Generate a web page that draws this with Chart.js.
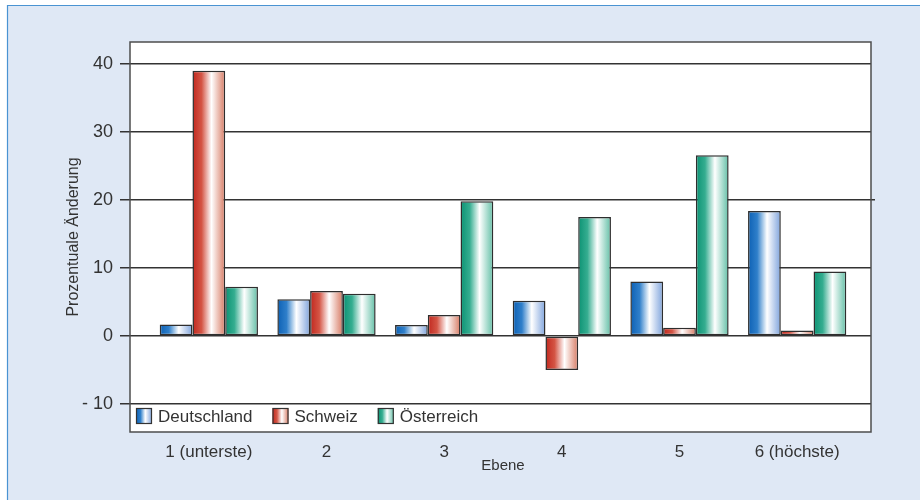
<!DOCTYPE html>
<html>
<head>
<meta charset="utf-8">
<script src="https://cdn.jsdelivr.net/npm/chart.js@4/dist/chart.umd.min.js"></script>
<style>
  html, body { margin: 0; padding: 0; background: #ffffff; }
  #wrap { width: 920px; height: 500px; }
</style>
</head>
<body>
<div id="wrap"><canvas id="c" width="920" height="500"></canvas></div>
<script>
// Prozentuale Änderung je Ebene
const ebenen = ['1 (unterste)', '2', '3', '4', '5', '6 (höchste)'];
const deutschland = [1.7, 5.4, 1.6, 5.2, 8.0, 18.4];
const schweiz = [39.0, 6.6, 3.1, -5.0, 1.2, 0.8];
const oesterreich = [7.25, 6.2, 19.8, 17.5, 26.6, 9.5];
const yTicks = [-10, 0, 10, 20, 30, 40];
const seriesNames = ['Deutschland', 'Schweiz', 'Österreich'];

const FONT = '"Liberation Sans", Arial, sans-serif';
const TEXT = '#333333';
const GRID = '#333333';
const GRID_W = 1.5;

// colour ramps for the shaded bar faces: dark edge, white highlight, soft edge
const ramps = [
  ['#0c60b4', '#2f7fca', '#ffffff', '#7ea3dc'],
  ['#c0271e', '#d45545', '#ffffff', '#d77a63'],
  ['#0b9273', '#35ad90', '#ffffff', '#62bfa6']
];

function shade(ctx, x0, x1, ramp) {
  const g = ctx.createLinearGradient(x0, 0, x1, 0);
  g.addColorStop(0, ramp[0]);
  g.addColorStop(0.28, ramp[1]);
  g.addColorStop(0.58, ramp[2]);
  g.addColorStop(1, ramp[3]);
  return g;
}

// plot frame (white box slightly wider than the category band)
const FRAME = { left: 130, right: 871 };

const panel = {
  id: 'panel',
  beforeDraw(chart) {
    const { ctx, chartArea } = chart;
    ctx.save();
    ctx.fillStyle = '#ffffff';
    ctx.fillRect(0, 0, chart.width, chart.height);
    ctx.fillStyle = '#dfe8f5';
    ctx.fillRect(7, 5, chart.width - 7, chart.height - 5);
    ctx.strokeStyle = '#4a93d2';
    ctx.lineWidth = 1.2;
    ctx.beginPath();
    ctx.moveTo(7.5, chart.height);
    ctx.lineTo(7.5, 5.5);
    ctx.lineTo(chart.width, 5.5);
    ctx.stroke();
    ctx.fillStyle = '#ffffff';
    ctx.fillRect(FRAME.left, chartArea.top, FRAME.right - FRAME.left, chartArea.bottom - chartArea.top);
    ctx.restore();
  },
  beforeDatasetsDraw(chart) {
    const { ctx, chartArea } = chart;
    const y = chart.scales.y;
    // horizontal grid lines across the whole frame, at the y scale's tick positions
    ctx.save();
    ctx.strokeStyle = GRID;
    ctx.lineWidth = GRID_W;
    y.ticks.forEach(t => {
      const raw = y.getPixelForValue(t.value);
      const py = Math.round(raw - GRID_W / 2) + GRID_W / 2;
      ctx.beginPath();
      ctx.moveTo(chartArea.left, py);
      ctx.lineTo(t.value === 20 ? FRAME.right + 4 : FRAME.right, py);
      ctx.stroke();
    });
    ctx.restore();
    // shaded faces for every bar
    chart.data.datasets.forEach((ds, i) => {
      const meta = chart.getDatasetMeta(i);
      meta.data.forEach(bar => {
        const p = bar.getProps(['x', 'width'], true);
        const g = shade(ctx, p.x - p.width / 2, p.x + p.width / 2, ramps[i]);
        bar.options = Object.assign({}, bar.options, { backgroundColor: g });
      });
    });
  },
  afterDraw(chart) {
    const { ctx, chartArea } = chart;
    ctx.save();
    ctx.strokeStyle = '#4d4d4d';
    ctx.lineWidth = 1.5;
    ctx.strokeRect(FRAME.left, chartArea.top, FRAME.right - FRAME.left, chartArea.bottom - chartArea.top);

    // legend inside the frame, below the -10 line
    ctx.font = '17px ' + FONT;
    ctx.textBaseline = 'middle';
    ctx.textAlign = 'left';
    let x = 136;
    const boxY = 408, box = 16;
    chart.data.datasets.forEach((ds, i) => {
      ctx.fillStyle = shade(ctx, x, x + box, ramps[i]);
      ctx.fillRect(x, boxY, box, box);
      ctx.strokeStyle = '#333333';
      ctx.lineWidth = 1.2;
      ctx.strokeRect(x + 0.5, boxY + 0.5, box - 1, box - 1);
      ctx.fillStyle = TEXT;
      ctx.fillText(ds.label, x + box + 6, boxY + box / 2 + 1);
      x += box + 6 + ctx.measureText(ds.label).width + 20;
    });
    ctx.restore();
  }
};

const seriesValues = [deutschland, schweiz, oesterreich];

new Chart(document.getElementById('c'), {
  type: 'bar',
  data: {
    labels: ebenen,
    datasets: seriesNames.map((name, i) => ({
      label: name,
      data: seriesValues[i],
      backgroundColor: ramps[i][1],
      borderColor: '#2e2e2e',
      borderWidth: 1.5,
      borderSkipped: false,
      barPercentage: 1.0,
      categoryPercentage: 0.835
    }))
  },
  options: {
    responsive: false,
    animation: false,
    devicePixelRatio: 1,
    layout: { padding: { top: 42, right: 64, left: 0, bottom: 0 } },
    plugins: {
      legend: { display: false },
      tooltip: { enabled: false }
    },
    scales: {
      x: {
        grid: { display: false, drawTicks: false },
        border: { display: false },
        ticks: {
          color: TEXT,
          font: { family: FONT, size: 17 },
          padding: 10,
          maxRotation: 0,
          autoSkip: false
        },
        title: {
          display: true,
          text: 'Ebene',
          color: TEXT,
          font: { family: FONT, size: 15 },
          padding: { top: 0, bottom: 25 }
        },
        afterFit(scale) { scale.height = 68; }
      },
      y: {
        min: -14.12,
        max: 43.24,
        grid: {
          color: GRID,
          lineWidth: GRID_W,
          drawOnChartArea: false,
          drawTicks: true,
          tickLength: 30
        },
        border: { display: false },
        afterBuildTicks(scale) {
          scale.ticks = yTicks.map(v => ({ value: v }));
        },
        ticks: {
          color: TEXT,
          font: { family: FONT, size: 18 },
          padding: 7,
          callback: v => (v < 0 ? '- ' + Math.abs(v) : String(v))
        },
        title: {
          display: true,
          text: 'Prozentuale Änderung',
          color: TEXT,
          font: { family: FONT, size: 16 },
          padding: { top: 64, bottom: 0 }
        },
        afterFit(scale) { scale.width = 150; }
      }
    }
  },
  plugins: [panel]
});
</script>
</body>
</html>
